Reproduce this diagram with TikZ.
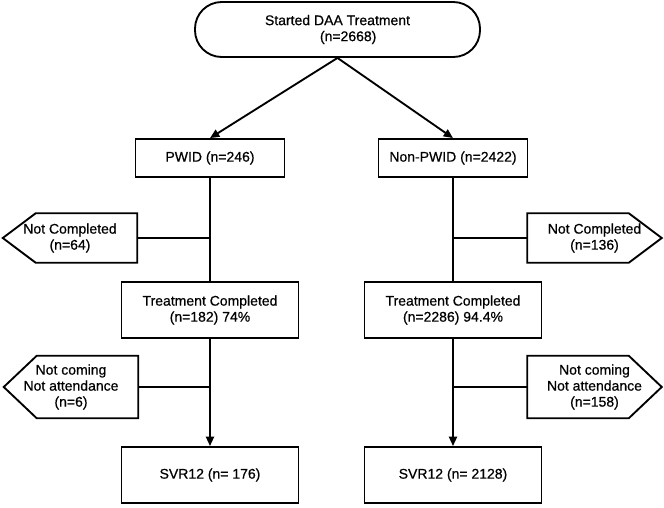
\documentclass[tikz,border=0pt]{standalone}
\usepackage{fontspec}
\setmainfont{Liberation Sans}[FakeBold=0.6]
\usetikzlibrary{arrows.meta}
\begin{document}
\begin{tikzpicture}[x=0.75pt,y=-0.75pt,
  every node/.style={font=\fontsize{10.5}{12}\selectfont, align=center, inner sep=0pt},
  box/.style={draw, line width=1.4pt, minimum width=132.75pt, minimum height=42pt},
  smallbox/.style={draw, line width=1.4pt, minimum width=111.75pt, minimum height=28.5pt},
  sidebox/.style={minimum width=100.5pt},
  conn/.style={line width=1.4pt},
  arr/.style={conn, -{Triangle[length=7pt,width=6pt]}}]
\useasboundingbox (0,0) rectangle (664,507);
% nodes
\node[draw, line width=1.4pt, rounded corners=20pt, minimum width=213.75pt, minimum height=41.25pt] (top) at (337.5,29.5) {Started DAA Treatment\\\hspace*{16pt}(n=2668)};
\node[smallbox] (pwid) at (210,158) {PWID (n=246)};
\node[smallbox] (npwid) at (453,158) {Non-PWID (n=2422)};
\node[box] (tc1) at (210,310) {Treatment Completed\\(n=182) 74\%};
\node[box] (tc2) at (453,310) {Treatment Completed\\(n=2286) 94.4\%};
\node[box] (svr1) at (210,475) {SVR12 (n= 176)};
\node[box] (svr2) at (453,475) {SVR12 (n= 2128)};
\node[sidebox, minimum height=36.75pt] (nc1) at (70,238) {Not Completed\\(n=64)};
\node[sidebox, minimum height=36.75pt] (nc2) at (594.5,238) {Not Completed\\(n=136)};
\node[sidebox, minimum height=46.5pt] (nco1) at (71,387) {Not coming\\Not attendance\\(n=6)};
\node[sidebox, minimum height=46.5pt] (nco2) at (594.5,387) {Not coming\\Not attendance\\(n=158)};
% pentagon outlines
\draw[conn] (nc1.north east) -- ([xshift=24.75pt]nc1.north west) -- (nc1.west) -- ([xshift=24.75pt]nc1.south west) -- (nc1.south east) -- cycle;
\draw[conn] (nco1.north east) -- ([xshift=24.75pt]nco1.north west) -- (nco1.west) -- ([xshift=24.75pt]nco1.south west) -- (nco1.south east) -- cycle;
\draw[conn] (nc2.north west) -- ([xshift=-24.75pt]nc2.north east) -- (nc2.east) -- ([xshift=-24.75pt]nc2.south east) -- (nc2.south west) -- cycle;
\draw[conn] (nco2.north west) -- ([xshift=-24.75pt]nco2.north east) -- (nco2.east) -- ([xshift=-24.75pt]nco2.south east) -- (nco2.south west) -- cycle;
% connectors
\draw[arr] (top.south) -- (pwid.north);
\draw[arr] (top.south) -- (npwid.north);
\draw[conn] (pwid) -- (tc1);
\draw[conn] (npwid) -- (tc2);
\draw[arr] (tc1) -- (svr1);
\draw[arr] (tc2) -- (svr2);
\draw[conn] (nc1.east) -- (nc1.east -| pwid.south);
\draw[conn] (nc2.west) -- (nc2.west -| npwid.south);
\draw[conn] (nco1.east) -- (nco1.east -| tc1.south);
\draw[conn] (nco2.west) -- (nco2.west -| tc2.south);
\end{tikzpicture}
\end{document}
